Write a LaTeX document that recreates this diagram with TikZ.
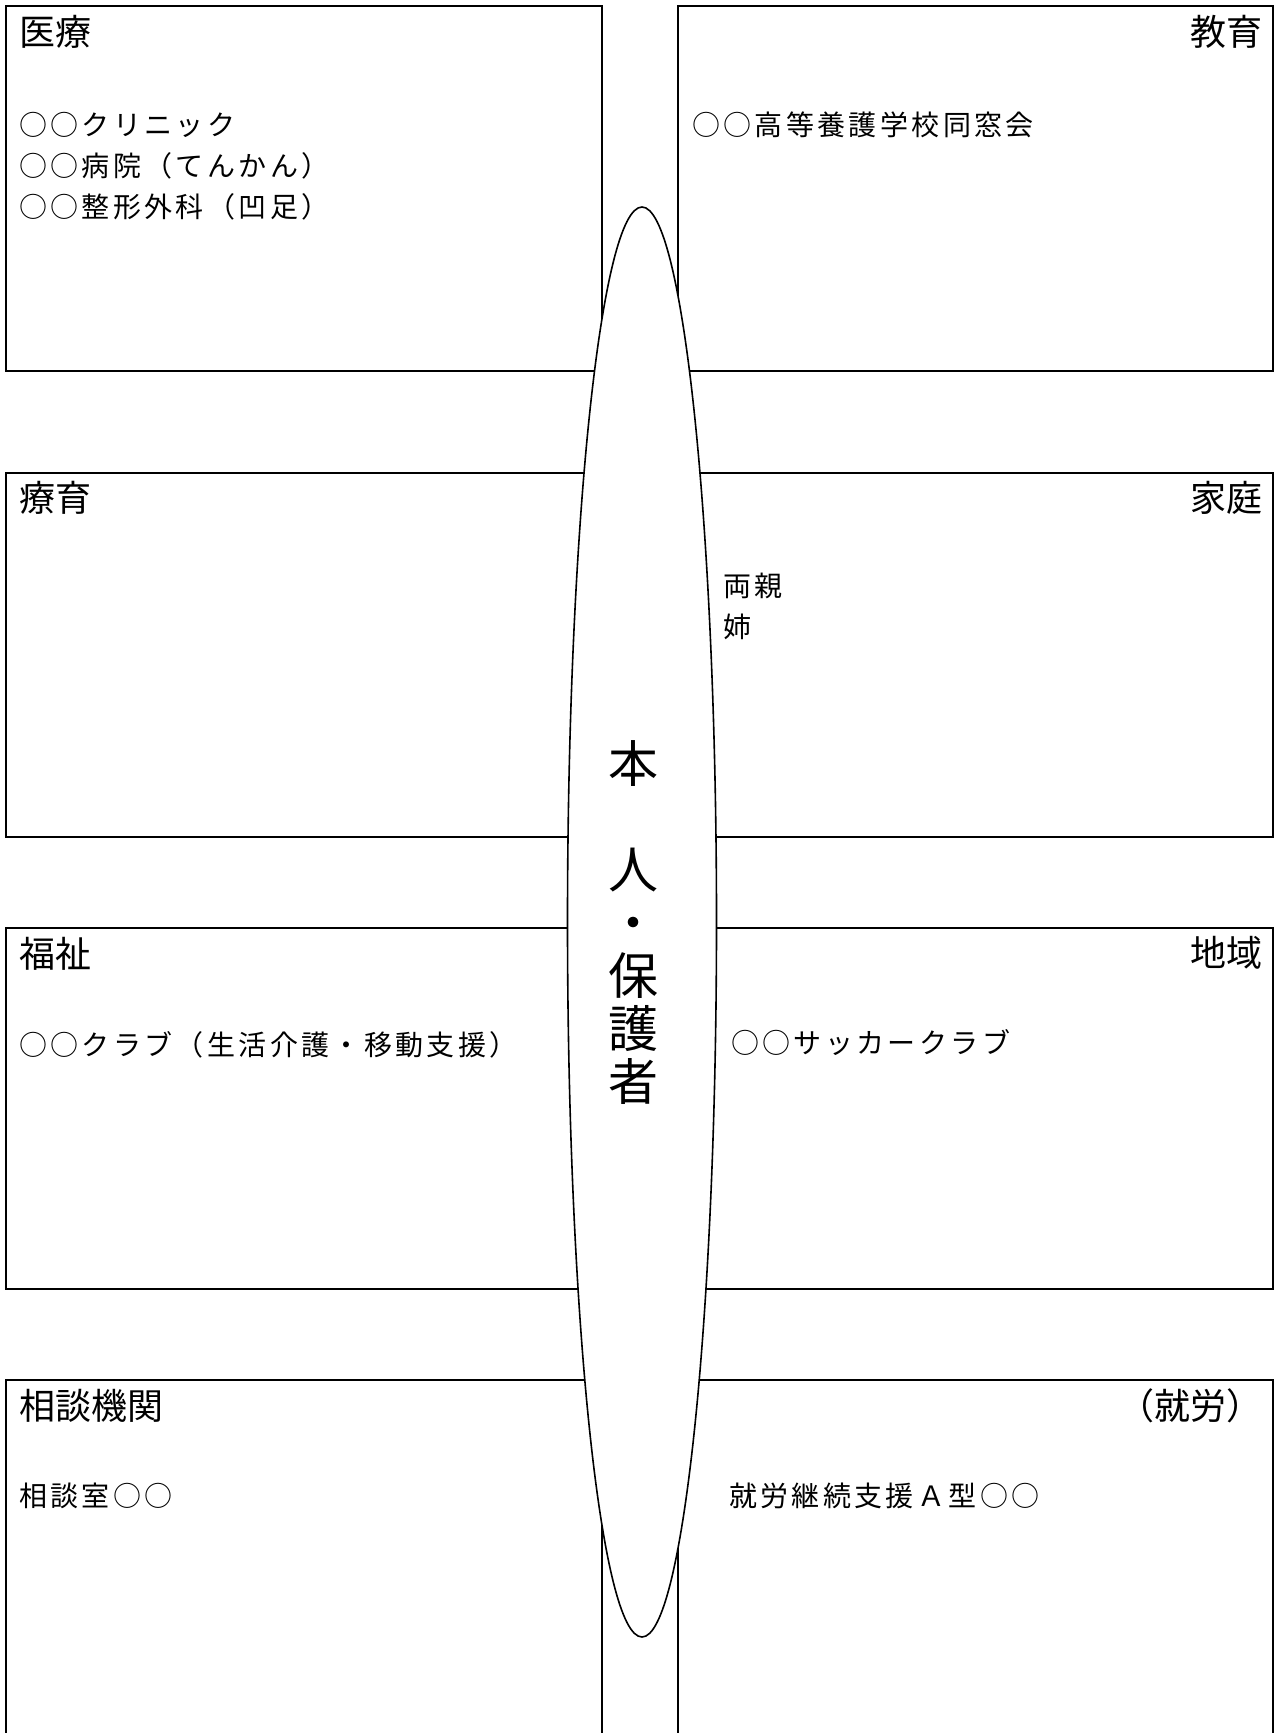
\documentclass[tikz,border=0pt]{standalone}
\usepackage{fontspec}
\setmainfont{Noto Sans CJK JP}
\newfontfamily\itemfont{Noto Sans CJK JP}[LetterSpace=12]

\begin{document}
\begin{tikzpicture}[x=1pt, y=-1pt,
        frame/.style={line width=2.4pt},
        head/.style={inner sep=0pt, font=\fontsize{36}{40}\selectfont},
        item/.style={inner sep=0pt, align=left, anchor=base west, font=\itemfont\fontsize{28}{41}\selectfont},
        center text/.style={inner sep=0pt, align=center, font=\fontsize{50}{53}\selectfont}]
        \useasboundingbox (0,0) rectangle (1276,1733);
        \clip (0,0) rectangle (1276,1733);
        \foreach \ya/\yb in {6/371,473/837,928/1289,1380/1745} {
            \draw[frame] (6,\ya) rectangle (602,\yb);
            \draw[frame] (678,\ya) rectangle (1273,\yb);
        }
        \draw[line width=1.6pt, fill=white] (642,922) ellipse [x radius=74.5pt, y radius=715pt];
        \node[center text] (honnin) at (633,923) {本\\　\\人\\・\\保\\護\\者};

        \node[head, anchor=base west] (iryou) at (19,45) {医療};
        \node[head, anchor=base east] (kyouiku) at (1263,45) {教育};
        \node[head, anchor=base west] (ryouiku) at (19,511) {療育};
        \node[head, anchor=base east] (katei) at (1263,511) {家庭};
        \node[head, anchor=base west] (fukushi) at (19,967) {福祉};
        \node[head, anchor=base east] (chiiki) at (1263,966) {地域};
        \node[head, anchor=base west] (soudan) at (19,1419) {相談機関};
        \node[head, anchor=base east] (shuurou) at (1263,1419) {（就労）};

        \node[item] (iryou list) at (19,217) {○○クリニック\\○○病院（てんかん）\\○○整形外科（凹足）};
        \node[item] (kyouiku list) at (692,135) {○○高等養護学校同窓会};
        \node[item] (katei list) at (723,637) {両親\\姉};
        \node[item] (fukushi list) at (19,1055) {○○クラブ（生活介護・移動支援）};
        \node[item] (chiiki list) at (731,1053) {○○サッカークラブ};
        \node[item] (soudan list) at (19,1506) {相談室○○};
        \node[item] (shuurou list) at (729,1506) {就労継続支援Ａ型○○};
\end{tikzpicture}
\end{document}
